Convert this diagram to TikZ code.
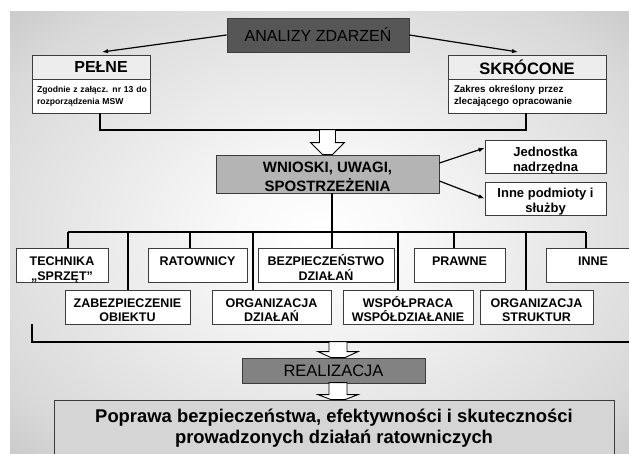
\documentclass[tikz,border=0pt]{standalone}
\usepackage{fontspec}
\setmainfont{Liberation Sans}
\usetikzlibrary{arrows.meta,calc}
\definecolor{cAn}{HTML}{565656}
\definecolor{cHead}{HTML}{EDEDED}
\definecolor{cWn}{HTML}{B4B4B4}
\definecolor{cReal}{HTML}{828282}
\definecolor{cFin}{HTML}{D5D5D5}
\definecolor{cBord}{HTML}{3C3C3C}
\pgfdeclareradialshading{bgshade}{\pgfpoint{0bp}{0bp}}{color(0bp)=(white); color(8bp)=(white!97!black); color(30bp)=(white!85!black); color(50bp)=(white!65!black); color(71bp)=(white!55!black)}
\newcommand\myfs[2]{\fontsize{#1}{#2}\selectfont}
\tikzset{
  box/.style={draw=cBord, line width=0.8pt, fill=white, inner sep=0pt, align=center,
    font=\bfseries\myfs{12.5}{15}},
  rowbox/.style={box, minimum height=34pt, text height=32.5pt, text depth=1.5pt},
  rowboxb/.style={box, minimum height=34pt, text height=31.5pt, text depth=2.5pt, font=\bfseries\myfs{12.5}{14}},
  ln/.style={line width=1.2pt, draw=black},
  arr/.style={line width=1.2pt, draw=black, -{Latex[length=6pt,width=4.5pt]}},
  barrow/.style={draw=black, line width=0.9pt, fill=white, line join=miter},
}
\begin{document}
\begin{tikzpicture}[x=1pt,y=-1pt]
\useasboundingbox (0,0) rectangle (629,454);
\shade[shading=bgshade] (10,12) rectangle (629,454);

% top
\node[box, fill=cAn, minimum width=182pt, minimum height=34pt, font=\myfs{16}{19}] (an) at (318,35) {ANALIZY ZDARZEŃ};
\node[box, fill=cHead, minimum width=118pt, minimum height=24pt, font=\bfseries\myfs{16}{18}] (pelneH) at (91,67) {\hspace*{20pt}PEŁNE};
\node[box, align=left, text width=108pt, inner xsep=5pt, minimum height=34pt, font=\bfseries\myfs{8.6}{12}] (pelneB) at (91,96) {\mbox{Zgodnie z załącz. nr 13 do}\\\mbox{rozporządzenia MSW}};
\node[box, fill=cHead, minimum width=158pt, minimum height=24pt, font=\bfseries\myfs{16.5}{18}] (skrH) at (527,67) {SKRÓCONE};
\node[box, align=left, text width=146pt, inner xsep=6pt, minimum height=34pt, font=\bfseries\myfs{9.8}{12}] (skrB) at (527,96) {\mbox{Zakres określony przez}\\\mbox{zlecającego opracowanie}};

% middle
\node[box, fill=cWn, minimum width=223pt, minimum height=38pt, text height=36.5pt, text depth=1.5pt, font=\bfseries\myfs{15}{19}] (wn) at (327.5,174) {WNIOSKI, UWAGI,\\SPOSTRZEŻENIA};
\node[box, minimum width=121pt, minimum height=33pt, text height=31.5pt, text depth=1.5pt, font=\bfseries\myfs{13}{14.5}] (jed) at (545.5,156.5) {Jednostka\\nadrzędna};
\node[box, minimum width=121pt, minimum height=33pt, text height=31pt, text depth=2pt, font=\bfseries\myfs{13}{15.5}] (inp) at (545.5,198.5) {Inne podmioty i\\służby};

% row 1
\node[rowbox, minimum width=92pt] (tech) at (62,265) {TECHNIKA\\„SPRZĘT”};
\node[rowbox, minimum width=99pt] (rat) at (197.5,265) {RATOWNICY\\\mbox{}};
\node[rowbox, minimum width=136pt] (bez) at (326,265) {BEZPIECZEŃSTWO\\DZIAŁAŃ};
\node[rowbox, minimum width=91pt] (praw) at (459.5,265) {PRAWNE\\\mbox{}};
\node[rowbox, minimum width=94pt] (inne) at (593,265) {INNE\\\mbox{}};
% row 2
\node[rowboxb, minimum width=125pt] (zab) at (127.5,307) {ZABEZPIECZENIE\\OBIEKTU};
\node[rowboxb, minimum width=119pt] (orgd) at (271.5,307) {ORGANIZACJA\\DZIAŁAŃ};
\node[rowboxb, minimum width=130pt] (wsp) at (408,307) {WSPÓŁPRACA\\WSPÓŁDZIAŁANIE};
\node[rowboxb, minimum width=113pt] (orgs) at (536.5,307) {ORGANIZACJA\\STRUKTUR};

% bottom
\node[box, fill=cReal, minimum width=183pt, minimum height=25pt, font=\myfs{16.5}{19}] (real) at (333.5,370.5) {REALIZACJA};
\node[box, fill=cFin, minimum width=560pt, minimum height=56pt, font=\bfseries\myfs{18.4}{21}] (fin) at (334,428) {Poprawa bezpieczeństwa, efektywności i skuteczności\\prowadzonych działań ratowniczych};

% coordinates
\coordinate (pa) at (102,52);
\coordinate (pb) at (518,52);
\coordinate (b1l) at (100,130);
\coordinate (b1r) at (526,130);
\coordinate (bus0) at (68,232);
\coordinate (bus1) at (128,232);
\coordinate (bus2) at (190,232);
\coordinate (bus3) at (253,232);
\coordinate (bus4) at (332,232);
\coordinate (bus5) at (398,232);
\coordinate (bus6) at (454,232);
\coordinate (bus7) at (526,232);
\coordinate (bus8) at (586,232);
\coordinate (bb0) at (32,342);
\coordinate (bb1) at (629,342);
\coordinate (t1) at (wn.north);
\coordinate (t2) at ($(real.north)+(4.5,0)$);
\coordinate (t3) at ($(fin.north)+(4,0)$);

% connectors
\draw[arr] (an.west) -- (pa);
\draw[arr] (an.east) -- (pb);
\draw[ln] (pelneB.south -| b1l) -- (b1l) -- (b1r) -- (skrB.south -| b1r);
\draw[barrow] ($(t1)+(-8,-25)$) -- ($(t1)+(-8,-12)$) -- ($(t1)+(-17,-12)$) -- ($(t1)+(-5,0)$) -- ($(t1)+(5,0)$) -- ($(t1)+(17,-12)$) -- ($(t1)+(8,-12)$) -- ($(t1)+(8,-25)$) -- cycle;
\draw[arr] ([yshift=11pt]wn.east) -- ([yshift=8.5pt]jed.west);
\draw[arr] ([yshift=-7pt]wn.east) -- (inp.west);
\draw[ln] (wn.south -| bus4) -- (bez.north -| bus4);
\draw[ln] (bus0) -- (bus8);
\draw[ln] (bus0) -- (tech.north -| bus0);
\draw[ln] (bus1) -- (zab.north -| bus1);
\draw[ln] (bus2) -- (rat.north -| bus2);
\draw[ln] (bus3) -- (orgd.north -| bus3);
\draw[ln] (bus5) -- (wsp.north -| bus5);
\draw[ln] (bus6) -- (praw.north -| bus6);
\draw[ln] (bus7) -- (orgs.north -| bus7);
\draw[ln] (bus8) -- (inne.north -| bus8);
\draw[ln] (bb0 |- zab.south) -- (bb0) -- (bb1);
\draw[barrow] ($(t2)+(-9,-16)$) -- ($(t2)+(-9,-6)$) -- ($(t2)+(-20,-6)$) -- ($(t2)+(-7,0)$) -- ($(t2)+(7,0)$) -- ($(t2)+(20,-6)$) -- ($(t2)+(9,-6)$) -- ($(t2)+(9,-16)$) -- cycle;
\draw[barrow] ($(t3)+(-9,-17)$) -- ($(t3)+(-9,-5)$) -- ($(t3)+(-20,-5)$) -- ($(t3)+(-7,0)$) -- ($(t3)+(7,0)$) -- ($(t3)+(20,-5)$) -- ($(t3)+(9,-5)$) -- ($(t3)+(9,-17)$) -- cycle;
\end{tikzpicture}
\end{document}
